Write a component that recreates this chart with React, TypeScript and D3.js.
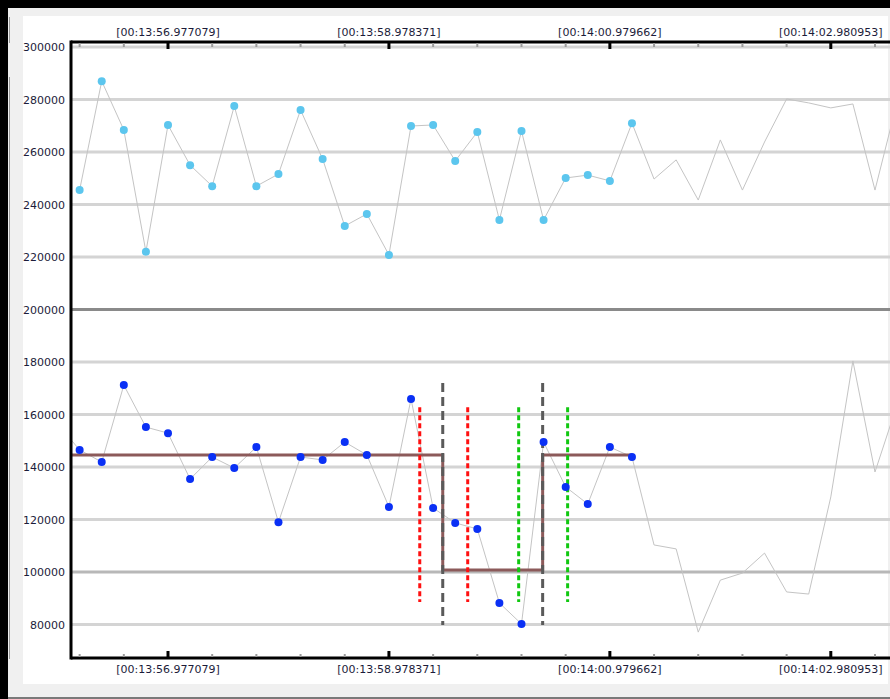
import React, { useEffect, useRef } from "react";
import * as d3 from "d3";

// time axis (seconds after 00:13:00)
const majorTimes = [56.977079, 58.978371, 60.979662, 62.980953];
const majorLabels = ["[00:13:56.977079]", "[00:13:58.978371]", "[00:14:00.979662]", "[00:14:02.980953]"];
const sampleStep = 0.2001292;
const firstSample = 56.977079 - 4 * sampleStep;

// y ticks
const yTicks = [300000, 280000, 260000, 240000, 220000, 200000, 180000, 160000, 140000, 120000, 100000, 80000];

// upper series (light blue); markers shown for the first 26 samples
const upperValues = [
  245500, 287000, 268400, 222000, 270300, 255000, 247000, 277500, 247000, 251600,
  276000, 257300, 231800, 236400, 220800, 269900, 270300, 256600, 267600, 234100,
  268000, 234100, 250100, 251200, 249000, 271000, 249700, 257000, 241700, 264600,
  245500, 263800, 280200, 278700, 276800, 278300, 245500, 279000,
];
// lower series (blue); first value is the sample before the visible window
const lowerValues = [
  156400,
  146500, 141900, 171200, 155200, 152900, 135400, 143800, 139600, 147600, 119000,
  143800, 142700, 149500, 144600, 124800, 165900, 124400, 118700, 116400, 88200,
  80200, 149500, 132400, 125900, 147600, 143800, 110300, 108800, 77100, 96900,
  99600, 107200, 92400, 91600, 128600, 180400, 138100, 163700,
];
const markedCount = 26;

// step level line (brown)
const stepTimes = [56.0, 59.4658, 59.4658, 60.3708, 60.3708, 61.185];
const stepValues = [144600, 144600, 100800, 100800, 144600, 144600];

// vertical markers
const redMarkers = [59.2576, 59.692];
const greenMarkers = [60.1536, 60.597];
const grayMarkers = [59.4658, 60.3708];
const shortMarkerRange = [162800, 88600];
const longMarkerRange = [172000, 79800];

function App() {
  const ref = useRef<SVGSVGElement>(null);

  useEffect(() => {
    const svg = d3.select(ref.current);
    svg.selectAll("*").remove();

    const left = 71, right = 890, top = 42, bottom = 658;
    const x = d3.scaleLinear().domain([majorTimes[0], majorTimes[3]]).range([168, 830.8]);
    const y = d3.scaleLinear().domain([300000, 80000]).range([47, 624.5]);
    const font = "'DejaVu Sans', Verdana, sans-serif";
    const textColor = "#1c1c3a";

    // window frame
    svg.append("rect").attr("width", 890).attr("height", 699).attr("fill", "#000");
    svg.append("rect").attr("x", 8).attr("y", 8).attr("width", 882).attr("height", 689).attr("fill", "#f0f0f0");
    svg.append("line").attr("x1", 8).attr("x2", 890).attr("y1", 698).attr("y2", 698)
      .attr("stroke", "#7a7a7a").attr("stroke-width", 2);
    svg.append("rect").attr("x", 23).attr("y", 16).attr("width", 865).attr("height", 668).attr("fill", "#fff");
    [[17, 43], [77, 659]].forEach(([a, b]) => {
      svg.append("line").attr("x1", 9.5).attr("x2", 9.5).attr("y1", a).attr("y2", b)
        .attr("stroke", "#9a9a9a").attr("stroke-width", 1);
    });

    svg.append("clipPath").attr("id", "plotClip")
      .append("rect").attr("x", left).attr("y", top).attr("width", right - left).attr("height", bottom - top);
    const plot = svg.append("g").attr("clip-path", "url(#plotClip)");

    // grid
    yTicks.forEach(v => {
      let color = "#d4d4d4";
      if (v === 200000) color = "#8a8a8a";
      else if (v === 100000) color = "#b8b8b8";
      plot.append("line").attr("x1", left).attr("x2", right).attr("y1", y(v)).attr("y2", y(v))
        .attr("stroke", color).attr("stroke-width", 3);
    });

    // connecting lines
    const upperPts: [number, number][] = upperValues.map((v, i) => [firstSample + i * sampleStep, v]);
    const lowerPts: [number, number][] = lowerValues.map((v, i) => [firstSample + (i - 1) * sampleStep, v]);
    const line = d3.line<[number, number]>().x(d => x(d[0])).y(d => y(d[1]));
    plot.append("path").attr("d", line(upperPts)).attr("fill", "none").attr("stroke", "#c4c4c4").attr("stroke-width", 1);
    plot.append("path").attr("d", line(lowerPts)).attr("fill", "none").attr("stroke", "#c4c4c4").attr("stroke-width", 1);

    // step line
    const stepPts: [number, number][] = stepTimes.map((t, i) => [t, stepValues[i]]);
    plot.append("path").attr("d", line(stepPts)).attr("fill", "none").attr("stroke", "#8c5a5a").attr("stroke-width", 3);

    // vertical markers
    const vmark = (times: number[], range: number[], color: string, dash: string) => {
      times.forEach(t => {
        plot.append("line").attr("x1", x(t)).attr("x2", x(t)).attr("y1", y(range[0])).attr("y2", y(range[1]))
          .attr("stroke", color).attr("stroke-width", 3).attr("stroke-dasharray", dash);
      });
    };
    vmark(grayMarkers, longMarkerRange, "#5a5a5a", "9,5");
    vmark(redMarkers, shortMarkerRange, "#ff1010", "5,3");
    vmark(greenMarkers, shortMarkerRange, "#10c810", "5,3");

    // markers
    plot.selectAll(".up").data(upperPts.slice(0, markedCount)).enter().append("circle")
      .attr("cx", d => x(d[0])).attr("cy", d => y(d[1])).attr("r", 4).attr("fill", "#5cc6ee");
    plot.selectAll(".low").data(lowerPts.slice(1, markedCount + 1)).enter().append("circle")
      .attr("cx", d => x(d[0])).attr("cy", d => y(d[1])).attr("r", 4).attr("fill", "#0a30f5");

    // axes frame
    svg.append("line").attr("x1", left).attr("x2", right).attr("y1", top).attr("y2", top).attr("stroke", "#000").attr("stroke-width", 3);
    svg.append("line").attr("x1", left).attr("x2", right).attr("y1", bottom).attr("y2", bottom).attr("stroke", "#000").attr("stroke-width", 3);
    svg.append("line").attr("x1", left).attr("x2", left).attr("y1", top - 1.5).attr("y2", bottom + 1.5).attr("stroke", "#000").attr("stroke-width", 3);

    // x ticks
    const tickStep = 2 * sampleStep;
    for (let k = -2; k <= 18; k++) {
      const t = majorTimes[0] + k * tickStep;
      const px = x(t);
      if (px < left + 3 || px > right) continue;
      const major = k % 5 === 0;
      svg.append("line").attr("x1", px).attr("x2", px)
        .attr("y1", top + 1).attr("y2", major ? top + 7 : top + 5)
        .attr("stroke", major ? "#000" : "#9c9c9c").attr("stroke-width", major ? 3 : 2);
      svg.append("line").attr("x1", px).attr("x2", px)
        .attr("y1", bottom - 1).attr("y2", major ? bottom - 7 : bottom - 4)
        .attr("stroke", major ? "#000" : "#9c9c9c").attr("stroke-width", major ? 3 : 2);
    }

    // x labels
    majorTimes.forEach((t, i) => {
      [36, 673].forEach(by => {
        svg.append("text").attr("x", x(t)).attr("y", by).attr("text-anchor", "middle")
          .attr("font-family", font).attr("font-size", 11).attr("fill", textColor).text(majorLabels[i]);
      });
    });

    // y labels
    yTicks.forEach(v => {
      svg.append("text").attr("x", 65).attr("y", y(v) + 4).attr("text-anchor", "end")
        .attr("font-family", font).attr("font-size", 11).attr("fill", textColor).text(String(v));
    });
  }, []);

  return (
    <div style={{ position: "absolute", left: 0, top: 0 }}>
      <svg ref={ref} width={890} height={699} style={{ display: "block" }}></svg>
    </div>
  );
}

export default App;
